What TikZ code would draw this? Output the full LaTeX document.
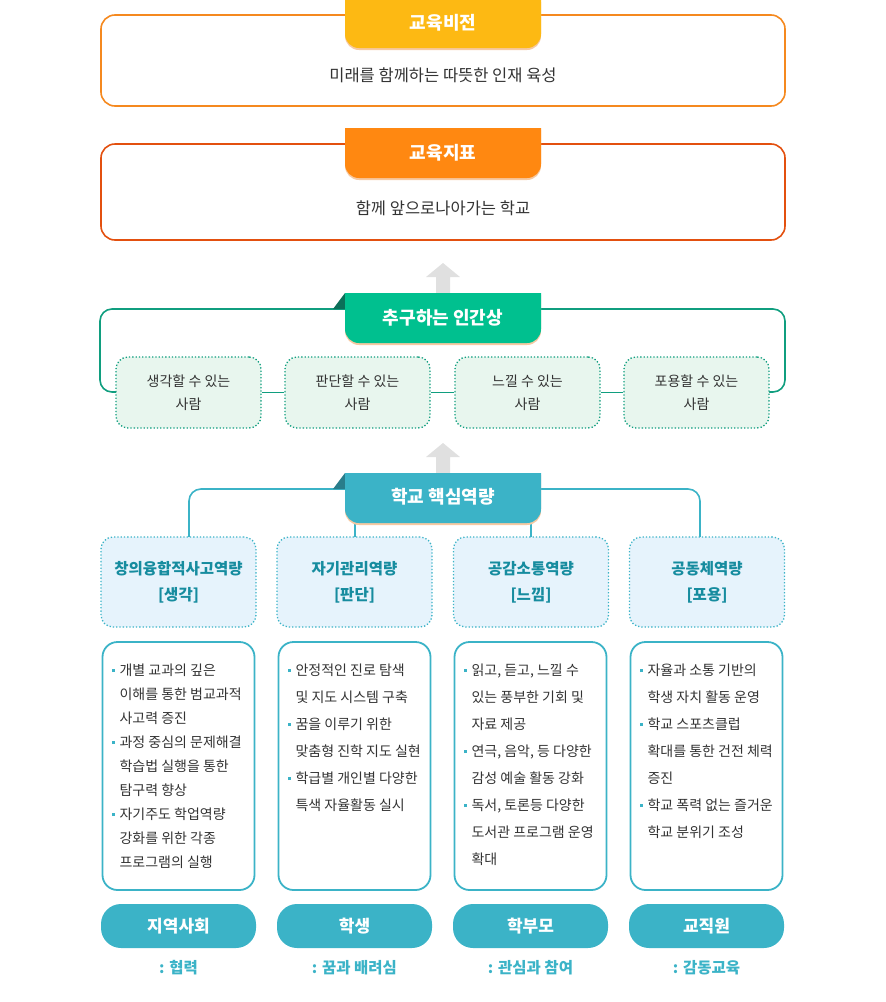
\documentclass[tikz,border=0pt]{standalone}
\usepackage{fontspec}
\setmainfont{Noto Sans CJK KR}
\usetikzlibrary{positioning}
\definecolor{visionC}{HTML}{FDB913}
\definecolor{visionL}{HTML}{F5891F}
\definecolor{goalC}{HTML}{FF8811}
\definecolor{goalL}{HTML}{E3500F}
\definecolor{humanC}{HTML}{00C08F}
\definecolor{humanL}{HTML}{109E7F}
\definecolor{humanF}{HTML}{E8F6EE}
\definecolor{coreC}{HTML}{3BB3C7}
\definecolor{coreF}{HTML}{E6F3FC}
\definecolor{coreT}{HTML}{168C9F}
\definecolor{shadowC}{HTML}{F6C9A2}
\definecolor{textC}{HTML}{333333}
\newcommand{\bul}{{\color{coreC}\rule[3pt]{3pt}{3pt}}\hspace{5pt}}
\newcommand{\ind}{\hspace{8pt}}
\begin{document}
\begin{tikzpicture}
[x=1pt,y=-1pt,
  frameDecorate/.style={draw,rounded corners=14,line width=1.6pt},
  tabText/.style={text=white,font=\fontsize{18}{21}\selectfont\bfseries},
  mainText/.style={text=textC,font=\fontsize{16.5}{19}\selectfont},
  humanBox/.style={draw=humanL,dotted,line width=1.3pt,fill=humanF,rounded corners=12,
    minimum width=145pt,minimum height=71pt,align=center,text=textC,
    font=\fontsize{14}{23}\selectfont},
  coreBox/.style={draw=coreC,dotted,line width=1.3pt,fill=coreF,rounded corners=12,
    minimum width=155pt,minimum height=90pt,align=center,text=coreT,
    font=\fontsize{15.5}{26}\selectfont\bfseries},
  detailBox/.style={draw=coreC,line width=1.8pt,rounded corners=15,
    minimum width=152pt,minimum height=248pt},
  detailText/.style={anchor=north west,align=left,text=textC,
    font=\fontsize{14}{27}\selectfont},
  pill/.style={fill=coreC,rounded corners=20,minimum width=155pt,minimum height=44pt,
    text=white,font=\fontsize{17}{20}\selectfont\bfseries},
  subText/.style={text=coreC,font=\fontsize{15.5}{18}\selectfont\bfseries},
  linkLine/.style={line width=1.6pt},
  upArrow/.style={fill=black!12}]
\useasboundingbox (0,0) rectangle (886,1002);
%% vision and goal
\draw[frameDecorate,visionL] (101,15) rectangle (785,106);
\fill[shadowC] (345,2) -- (541,2) [rounded corners=14] -- (541,50) -- (345,50) [sharp corners] -- cycle;
\fill[visionC] (345,0) -- (541,0) [rounded corners=14] -- (541,48) -- (345,48) [sharp corners] -- cycle;
\node[tabText] (vision) at (443,23) {교육비전};
\node[mainText] (visionTxt) at (443,75) {미래를 함께하는 따뜻한 인재 육성};
\draw[frameDecorate,goalL] (101,144) rectangle (785,240);
\fill[shadowC] (345,130) -- (541,130) [rounded corners=14] -- (541,180) -- (345,180) [sharp corners] -- cycle;
\fill[goalC] (345,128) -- (541,128) [rounded corners=14] -- (541,178) -- (345,178) [sharp corners] -- cycle;
\node[tabText] (goal) at (443,153) {교육지표};
\node[mainText] (goalTxt) at (443,208) {함께 앞으로나아가는 학교};
%% arrows
\foreach \y in {263,443}
  \fill[upArrow] (436,\y+30) -- (436,\y+14) -- (426,\y+14) -- (443,\y) -- (460,\y+14) -- (450,\y+14) -- (450,\y+30) -- cycle;
%% human image
\draw[linkLine,humanL,rounded corners=12] (116,392) -- (100,392) -- (100,309) -- (785,309) -- (785,392) -- (769,392);
\fill[humanL!70!black] (333,309) -- (345,293) -- (345,309) -- cycle;
\fill[shadowC] (345,295) -- (541,295) [rounded corners=14] -- (541,345) -- (345,345) [sharp corners] -- cycle;
\fill[humanC] (345,293) -- (541,293) [rounded corners=14] -- (541,343) -- (345,343) [sharp corners] -- cycle;
\node[tabText] (human) at (443,318) {추구하는 인간상};
\foreach \name/\x/\txt in {h1/188.5/생각할 수 있는,h2/357.5/판단할 수 있는,h3/527.5/느낄 수 있는,h4/696.5/포용할 수 있는}
  \node[humanBox] (\name) at (\x,392.5) {\txt\\사람};
\foreach \a/\b in {h1/h2,h2/h3,h3/h4}
  \draw[linkLine,humanL] (\a) -- (\b);
%% school competencies
\draw[linkLine,coreC,rounded corners=12] (189,537) -- (189,489) -- (700,489) -- (700,537);
\draw[linkLine,coreC] (355,510) -- (355,537);
\draw[linkLine,coreC] (531,510) -- (531,537);
\fill[coreC!70!black] (333,489) -- (345,473) -- (345,489) -- cycle;
\fill[shadowC] (345,475) -- (541,475) [rounded corners=14] -- (541,525) -- (345,525) [sharp corners] -- cycle;
\fill[coreC] (345,473) -- (541,473) [rounded corners=14] -- (541,523) -- (345,523) [sharp corners] -- cycle;
\node[tabText] (core) at (443,497) {학교 핵심역량};
\foreach \name/\x/\txt/\key in {c1/178.5/창의융합적사고역량/생각,c2/354.5/자기관리역량/판단,
    c3/531/공감소통역량/느낌,c4/707/공동체역량/포용}
  \node[coreBox] (\name) at (\x,582) {\txt\\{[}\key{]}};
%% details
\foreach \name/\x in {d1/178.5,d2/354.5,d3/530.5,d4/706.5}
  \node[detailBox] (\name) at (\x,766) {};
\node[detailText,font=\fontsize{14}{24}\selectfont] at (108,660) {\bul 개별 교과의 깊은\\\ind 이해를 통한 범교과적\\\ind 사고력 증진\\\bul 과정 중심의 문제해결\\\ind 학습법 실행을 통한\\\ind 탐구력 향상\\\bul 자기주도 학업역량\\\ind 강화를 위한 각종\\\ind 프로그램의 실행};
\node[detailText] at (284,660) {\bul 안정적인 진로 탐색\\\ind 및 지도 시스템 구축\\\bul 꿈을 이루기 위한\\\ind 맞춤형 진학 지도 실현\\\bul 학급별 개인별 다양한\\\ind 특색 자율활동 실시};
\node[detailText] at (460,660) {\bul 읽고, 듣고, 느낄 수\\\ind 있는 풍부한 기회 및\\\ind 자료 제공\\\bul 연극, 음악, 등 다양한\\\ind 감성 예술 활동 강화\\\bul 독서, 토론등 다양한\\\ind 도서관 프로그램 운영\\\ind 확대};
\node[detailText] at (636,660) {\bul 자율과 소통 기반의\\\ind 학생 자치 활동 운영\\\bul 학교 스포츠클럽\\\ind 확대를 통한 건전 체력\\\ind 증진\\\bul 학교 폭력 없는 즐거운\\\ind 학교 분위기 조성};
%% members
\foreach \name/\x/\txt/\sub in {p1/178.5/지역사회/협력,p2/354.5/학생/꿈과 배려심,
    p3/530.5/학부모/관심과 참여,p4/706.5/교직원/감동교육}
{
  \node[pill] (\name) at (\x,926) {\txt};
  \node[subText,below=9pt of \name] (\name s) {: \sub};
}
\end{tikzpicture}
\end{document}
